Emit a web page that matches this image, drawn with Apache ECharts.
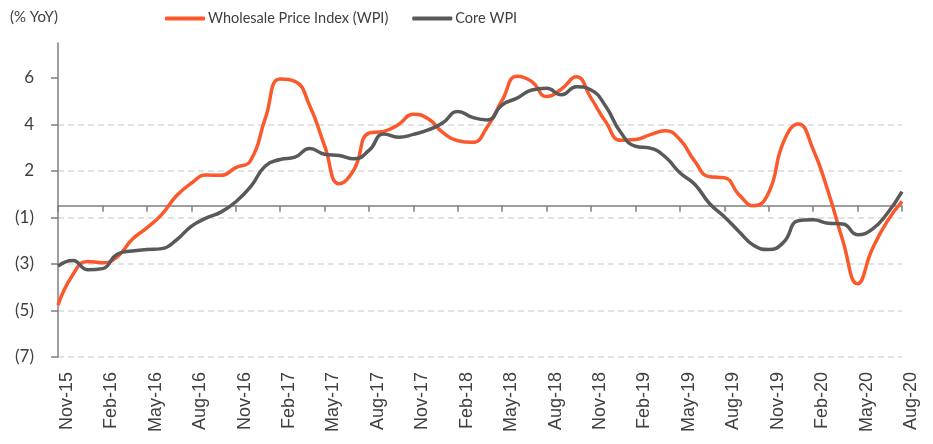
<!DOCTYPE html>
<html>
<head>
<meta charset="utf-8">
<script src="https://cdn.jsdelivr.net/npm/echarts@6/dist/echarts.min.js"></script>
<style>
  html, body { margin: 0; padding: 0; background: #fff; }
  #chart { width: 933px; height: 444px; }
</style>
</head>
<body>
<div id="chart"></div>
<script>
// monthly categories, Nov-15 .. Aug-20
var months = [
  'Nov-15', 'Dec-15',
  'Jan-16', 'Feb-16', 'Mar-16', 'Apr-16', 'May-16', 'Jun-16', 'Jul-16', 'Aug-16', 'Sep-16', 'Oct-16', 'Nov-16', 'Dec-16',
  'Jan-17', 'Feb-17', 'Mar-17', 'Apr-17', 'May-17', 'Jun-17', 'Jul-17', 'Aug-17', 'Sep-17', 'Oct-17', 'Nov-17', 'Dec-17',
  'Jan-18', 'Feb-18', 'Mar-18', 'Apr-18', 'May-18', 'Jun-18', 'Jul-18', 'Aug-18', 'Sep-18', 'Oct-18', 'Nov-18', 'Dec-18',
  'Jan-19', 'Feb-19', 'Mar-19', 'Apr-19', 'May-19', 'Jun-19', 'Jul-19', 'Aug-19', 'Sep-19', 'Oct-19', 'Nov-19', 'Dec-19',
  'Jan-20', 'Feb-20', 'Mar-20', 'Apr-20', 'May-20', 'Jun-20', 'Jul-20', 'Aug-20'
];

// % YoY
var wpi = [
  -4.27, -2.96, -2.39, -2.45, -2.19, -1.45, -0.95, -0.38, 0.43, 0.97, 1.32, 1.31, 1.64, 1.94,
  3.76, 5.45, 5.35, 4.30, 2.59, 0.95, 1.57, 3.13, 3.20, 3.50, 3.94, 3.74, 3.15, 2.80,
  2.73, 3.40, 4.54, 5.57, 5.34, 4.70, 5.02, 5.55, 4.63, 3.60, 2.82, 2.85, 3.06, 3.23,
  2.85, 1.92, 1.25, 1.21, 0.47, 0.00, 0.57, 2.75, 3.52, 2.42, 0.64, -1.49, -3.35, -1.85,
  -0.67, 0.19
];
var coreWpi = [
  -2.59, -2.35, -2.75, -2.70, -2.08, -1.94, -1.88, -1.84, -1.47, -0.88, -0.53, -0.27, 0.17, 0.81,
  1.71, 1.99, 2.09, 2.46, 2.22, 2.16, 2.02, 2.38, 3.09, 2.95, 3.07, 3.26, 3.57, 4.06,
  3.80, 3.69, 4.34, 4.63, 4.98, 5.05, 4.77, 5.12, 4.98, 4.27, 3.16, 2.56, 2.48, 2.11,
  1.42, 0.93, 0.10, -0.47, -1.11, -1.71, -1.88, -1.57, -0.64, -0.60, -0.75, -0.78, -1.24, -1.00,
  -0.33, 0.61
];

// y ticks sit at odd half-units; labels are rounded half away from zero
var yTicks = [-6.5, -4.5, -2.5, -0.5, 1.5, 3.5, 5.5];

var FONT = 'Lato, "Noto Sans", sans-serif';

function fmtY(v) {
  var r = v < 0 ? -Math.round(-v) : Math.round(v);
  return r < 0 ? '(' + (-r) + ')' : String(r);
}

var chart = echarts.init(document.getElementById('chart'));

var option = {
  animation: false,
  textStyle: { fontFamily: FONT },
  title: {
    text: '(% YoY)',
    left: 10,
    top: 10,
    padding: 0,
    textStyle: { fontFamily: FONT, fontSize: 15, fontWeight: 'normal', color: '#404040' }
  },
  legend: {
    left: 165,
    top: 11,
    padding: 0,
    itemWidth: 40,
    itemHeight: 4,
    itemGap: 24,
    icon: 'roundRect',
    textStyle: { fontFamily: FONT, fontSize: 14.5, color: '#404040', padding: [0, 0, 0, -2] },
    data: ['Wholesale Price Index (WPI)', 'Core WPI']
  },
  grid: { left: 58, right: 31, top: 43, bottom: 87 },
  xAxis: [
    {
      type: 'category',
      data: months,
      boundaryGap: false,
      axisLine: { show: false, onZero: false },
      axisTick: { show: false },
      splitLine: { show: false },
      axisLabel: {
        interval: 2,
        rotate: 90,
        margin: 15,
        verticalAlign: 'top',
        fontFamily: '"Liberation Sans", Arial, sans-serif',
        fontSize: 18,
        color: '#404040'
      }
    },
    {
      type: 'category',
      data: months,
      boundaryGap: false,
      position: 'bottom',
      axisLine: { show: true, onZero: true, lineStyle: { color: '#7f7f7f', width: 1.5 } },
      axisTick: { show: true, interval: 2, length: 6, lineStyle: { color: '#7f7f7f', width: 1.5 } },
      axisLabel: { show: false },
      splitLine: { show: false }
    }
  ],
  yAxis: {
    type: 'value',
    min: -6.5,
    max: 7,
    interval: 2,
    axisLine: { show: true, lineStyle: { color: '#7f7f7f', width: 1.5 } },
    axisTick: { show: true, length: 7, customValues: yTicks, lineStyle: { color: '#7f7f7f', width: 1.5 } },
    axisLabel: {
      customValues: yTicks,
      formatter: fmtY,
      margin: 24,
      fontFamily: FONT,
      fontSize: 17,
      color: '#404040'
    },
    splitLine: {
      show: true,
      showMaxLine: false,
      lineStyle: { color: '#d9d9d9', width: 1.5, type: [6, 4] }
    }
  },
  series: [
    {
      name: 'Wholesale Price Index (WPI)',
      type: 'line',
      xAxisIndex: 0,
      data: wpi,
      smooth: true,
      symbol: 'none',
      lineStyle: { color: '#fb582b', width: 3.5 },
      itemStyle: { color: '#fb582b' },
      z: 3
    },
    {
      name: 'Core WPI',
      type: 'line',
      xAxisIndex: 0,
      data: coreWpi,
      smooth: true,
      symbol: 'none',
      lineStyle: { color: '#595959', width: 3.5 },
      itemStyle: { color: '#595959' },
      z: 4
    }
  ]
};

chart.setOption(option);
</script>
</body>
</html>
